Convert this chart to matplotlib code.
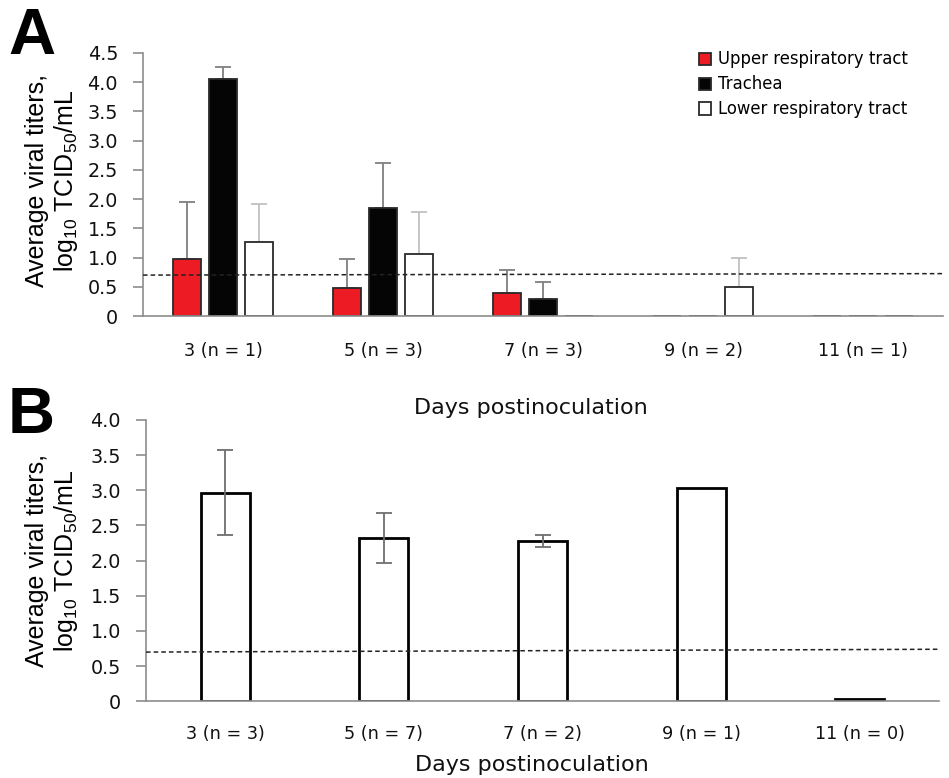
import numpy as np
import matplotlib.pyplot as plt

# panel A data
days_a = ["3 (n = 1)", "5 (n = 3)", "7 (n = 3)", "9 (n = 2)", "11 (n = 1)"]
upper = [0.97, 0.48, 0.39, 0.0, 0.0]
upper_err = [1.95, 0.97, 0.78, 0.0, 0.0]
trachea = [4.05, 1.84, 0.29, 0.0, 0.0]
trachea_err = [4.26, 2.61, 0.58, 0.0, 0.0]
lower = [1.26, 1.06, 0.0, 0.50, 0.0]
lower_err = [1.91, 1.78, 0.0, 1.00, 0.0]
limit_a = [0.70, 0.725]

# panel B data
days_b = ["3 (n = 3)", "5 (n = 7)", "7 (n = 2)", "9 (n = 1)", "11 (n = 0)"]
titer_b = [2.96, 2.32, 2.28, 3.03, 0.03]
err_lo_b = [2.36, 1.96, 2.20, 3.03, 0.03]
err_hi_b = [3.57, 2.68, 2.37, 3.03, 0.03]
limit_b = [0.70, 0.74]

tick_font = "DejaVu Sans"
label_font = "Liberation Sans"
ylab = "Average viral titers,\nlog$_{10}$ TCID$_{50}$/mL"

plt.rcParams["mathtext.fontset"] = "custom"
plt.rcParams["mathtext.rm"] = "Liberation Sans"
plt.rcParams["mathtext.it"] = "Liberation Sans"

fig = plt.figure(figsize=(9.49, 7.78), dpi=100)
axA = fig.add_axes([143/949, 1-316/778, 800/949, 263/778])
axB = fig.add_axes([146/949, 1-701.3/778, 793/949, 281.3/778])


def style(ax):
    for s in ["top", "right"]:
        ax.spines[s].set_visible(False)
    for s in ["left", "bottom"]:
        ax.spines[s].set_color("#8c8c8c")
        ax.spines[s].set_linewidth(1.2)
    ax.tick_params(axis="y", direction="out", length=7, width=1.2, color="#8c8c8c",
                   labelsize=13.8, pad=11)
    ax.tick_params(axis="x", length=0, labelsize=12.7, pad=19)
    for t in ax.get_xticklabels() + ax.get_yticklabels():
        t.set_fontfamily(tick_font)
        t.set_color("#111111")
    ax.set_xlim(-0.5, 4.5)


x = np.arange(len(days_a))
w = 0.175
off = 0.222
series = [(upper, upper_err, "#ed1c24", "#7f7f7f", "Upper respiratory tract"),
          (trachea, trachea_err, "#050505", "#7f7f7f", "Trachea"),
          (lower, lower_err, "white", "#c0c0c0", "Lower respiratory tract")]
for i, (vals, tops, fc, ec, name) in enumerate(series):
    xs = x + (i - 1) * off
    axA.bar(xs, vals, w, color=fc, edgecolor="#2a2a2a", linewidth=1.3, label=name, zorder=2)
    up = np.array(tops) - np.array(vals)
    mask = up > 0
    axA.errorbar(xs[mask], np.array(vals)[mask], yerr=[np.zeros(mask.sum()), up[mask]],
                 fmt="none", ecolor=ec, elinewidth=1.3, capsize=6, capthick=1.3, zorder=1)
axA.plot([-0.5, 4.5], limit_a, ls=(0, (3, 2)), color="#222222", lw=1.1, zorder=3)
axA.set_ylim(0, 4.5)
axA.set_yticks(np.arange(0, 4.51, 0.5))
axA.set_yticklabels(["0"] + [f"{v:.1f}" for v in np.arange(0.5, 4.51, 0.5)])
axA.set_xticks(x)
axA.set_xticklabels(days_a)
style(axA)
axA.set_xlabel("Days postinoculation", fontsize=16, fontfamily=tick_font, color="#111111")
axA.xaxis.set_label_coords(0.485, -0.31)
axA.set_ylabel(ylab, fontsize=18, fontfamily=label_font, linespacing=1.15)
axA.yaxis.set_label_coords(-0.079, 0.515)
leg = axA.legend(loc="upper left", bbox_to_anchor=(696/800 - 143/800 - 0.005, 1.035), frameon=False,
                 prop={"family": tick_font, "size": 11.9}, handlelength=0.75, handleheight=0.75,
                 handletextpad=0.4, labelspacing=0.42, borderaxespad=0)

xb = np.arange(len(days_b))
axB.bar(xb, titer_b, 0.31, color="white", edgecolor="black", linewidth=2, zorder=2)
lo = np.array(titer_b) - np.array(err_lo_b)
hi = np.array(err_hi_b) - np.array(titer_b)
m = (lo + hi) > 0
axB.errorbar(xb[m], np.array(titer_b)[m], yerr=[lo[m], hi[m]], fmt="none",
             ecolor="#6e6e6e", elinewidth=1.3, capsize=6, capthick=1.3, zorder=3)
axB.plot([-0.5, 4.5], limit_b, ls=(0, (3, 2)), color="#222222", lw=1.1, zorder=3)
axB.set_ylim(0, 4.0)
axB.set_yticks(np.arange(0, 4.01, 0.5))
axB.set_yticklabels(["0"] + [f"{v:.1f}" for v in np.arange(0.5, 4.01, 0.5)])
axB.set_xticks(xb)
axB.set_xticklabels(days_b)
style(axB)
axB.tick_params(axis="x", pad=17)
axB.set_xlabel("Days postinoculation", fontsize=16, fontfamily=tick_font, color="#111111")
axB.xaxis.set_label_coords(0.486, -0.19)
axB.set_ylabel(ylab, fontsize=18, fontfamily=label_font, linespacing=1.15)
axB.yaxis.set_label_coords(-0.083, 0.5)

fig.text(8/949, 1-7/778, "A", fontsize=47, fontweight="bold", fontfamily=label_font, va="top")
fig.text(8/949, 1-386/778, "B", fontsize=47, fontweight="bold", fontfamily=label_font, va="top")

fig.savefig("out.png", dpi=100)
